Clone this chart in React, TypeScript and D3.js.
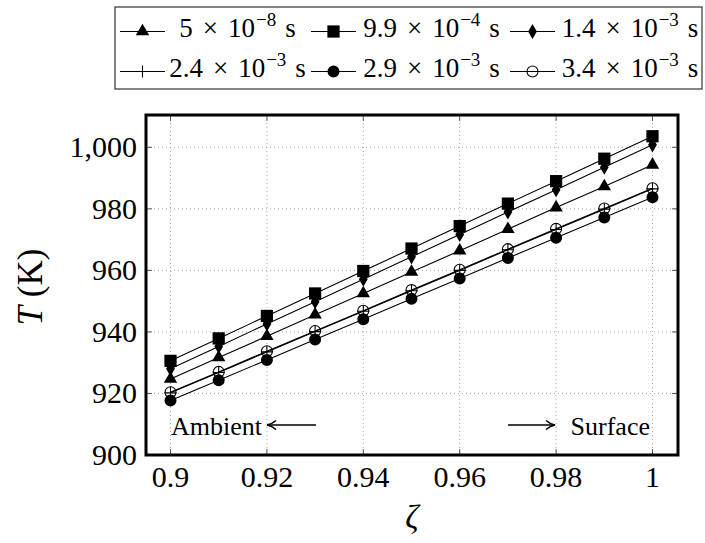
import React, { useEffect, useRef } from 'react';
import * as d3 from 'd3';

// valores
const zeta = [0.9, 0.91, 0.92, 0.93, 0.94, 0.95, 0.96, 0.97, 0.98, 0.99, 1.0];
const t5e8 = [924.7, 931.7, 938.6, 945.6, 952.5, 959.5, 966.4, 973.4, 980.4, 987.3, 994.3];
const t99e4 = [930.6, 937.9, 945.2, 952.5, 959.8, 967.1, 974.4, 981.7, 989.0, 996.3, 1003.6];
const t14e3 = [928.0, 935.3, 942.6, 949.8, 957.1, 964.4, 971.7, 979.0, 986.2, 993.5, 1000.8];
const t24e3 = [920.2, 926.8, 933.5, 940.1, 946.7, 953.4, 960.0, 966.7, 973.3, 979.9, 986.5];
const t29e3 = [917.7, 924.3, 930.9, 937.5, 944.1, 950.8, 957.4, 964.0, 970.6, 977.2, 983.8];
const t34e3 = [920.4, 927.0, 933.7, 940.3, 946.9, 953.6, 960.2, 966.9, 973.5, 980.1, 986.7];

const legendMantissa = ['5', '9.9', '1.4', '2.4', '2.9', '3.4'];
const legendExponent = ['−8', '−4', '−3', '−3', '−3', '−3'];
const markers = ['triangle', 'square', 'diamond', 'plus', 'circle', 'ocircle'];

const xTicks = [0.9, 0.92, 0.94, 0.96, 0.98, 1];
const yTicks = [900, 920, 940, 960, 980, 1000];

const FONT = "'Liberation Serif', 'Times New Roman', serif";

const drawMarker = (g: any, kind: string, x: number, y: number) => {
  if (kind === 'plus') {
    g.append('path')
      .attr('d', `M${x - 6},${y}H${x + 6}M${x},${y - 6}V${y + 6}`)
      .attr('stroke', 'black')
      .attr('stroke-width', 1.1)
      .attr('fill', 'none');
    return;
  }
  if (kind === 'ocircle') {
    g.append('circle')
      .attr('cx', x)
      .attr('cy', y)
      .attr('r', 5.5)
      .attr('fill', 'none')
      .attr('stroke', 'black')
      .attr('stroke-width', 1.1);
    return;
  }
  const type =
    kind === 'triangle' ? d3.symbolTriangle :
    kind === 'square' ? d3.symbolSquare :
    kind === 'diamond' ? d3.symbolDiamond : d3.symbolCircle;
  const size = kind === 'triangle' ? 78 : kind === 'square' ? 150 : kind === 'diamond' ? 66 : 113;
  g.append('path')
    .attr('d', d3.symbol().type(type).size(size)())
    .attr('transform', `translate(${x},${y})`)
    .attr('fill', 'black');
};

const App = () => {
  const chartRef = useRef<HTMLDivElement>(null);

  useEffect(() => {
    document.body.style.margin = '0';
    const series = [t5e8, t99e4, t14e3, t24e3, t29e3, t34e3];

    const width = 705;
    const height = 543;
    const left = 146, right = 678, top = 115, bottom = 455;

    const x = d3.scaleLinear().domain([0.894917, 1.00529]).range([left, right]);
    const y = d3.scaleLinear().domain([900, 1010.5]).range([bottom, top]);

    d3.select(chartRef.current).selectAll('*').remove();
    const svg = d3
      .select(chartRef.current)
      .append('svg')
      .attr('width', width)
      .attr('height', height)
      .attr('font-family', FONT)
      .style('display', 'block');

    // rejilla punteada
    const grid = svg.append('g');
    xTicks.forEach(t => {
      grid.append('line')
        .attr('x1', x(t)).attr('x2', x(t))
        .attr('y1', top).attr('y2', bottom)
        .attr('stroke', '#aaa')
        .attr('stroke-width', 1)
        .attr('stroke-dasharray', '1,3');
    });
    yTicks.forEach(t => {
      grid.append('line')
        .attr('x1', left).attr('x2', right)
        .attr('y1', y(t)).attr('y2', y(t))
        .attr('stroke', '#aaa')
        .attr('stroke-width', 1)
        .attr('stroke-dasharray', '1,3');
    });

    // marcas de los ejes (hacia dentro, ambos lados)
    const ticks = svg.append('g').attr('stroke', '#555').attr('stroke-width', 1);
    xTicks.forEach(t => {
      ticks.append('line').attr('x1', x(t)).attr('x2', x(t)).attr('y1', bottom).attr('y2', bottom - 6);
      ticks.append('line').attr('x1', x(t)).attr('x2', x(t)).attr('y1', top).attr('y2', top + 6);
    });
    yTicks.forEach(t => {
      ticks.append('line').attr('x1', left).attr('x2', left + 6).attr('y1', y(t)).attr('y2', y(t));
      ticks.append('line').attr('x1', right).attr('x2', right - 6).attr('y1', y(t)).attr('y2', y(t));
    });

    // etiquetas de los ticks
    svg.append('g')
      .selectAll('text')
      .data(xTicks)
      .enter()
      .append('text')
      .attr('x', d => x(d))
      .attr('y', 487)
      .attr('text-anchor', 'middle')
      .style('font-size', '30px')
      .text(d => String(d));

    svg.append('g')
      .selectAll('text')
      .data(yTicks)
      .enter()
      .append('text')
      .attr('x', 137)
      .attr('y', d => y(d) + 10)
      .attr('text-anchor', 'end')
      .style('font-size', '30px')
      .text(d => d3.format(',')(d));

    // series
    const line = d3.line<number>().x((d, i) => x(zeta[i])).y(d => y(d));
    const plot = svg.append('g');
    series.forEach((s, k) => {
      plot.append('path')
        .datum(s)
        .attr('d', line)
        .attr('fill', 'none')
        .attr('stroke', 'black')
        .attr('stroke-width', 1.1);
      s.forEach((v, i) => drawMarker(plot, markers[k], x(zeta[i]), y(v)));
    });

    // marco
    svg.append('rect')
      .attr('x', left).attr('y', top)
      .attr('width', right - left).attr('height', bottom - top)
      .attr('fill', 'none')
      .attr('stroke', 'black')
      .attr('stroke-width', 3);

    // anotaciones Ambient / Surface
    svg.append('defs').html(
      `<marker id="ah" viewBox="0 0 12 12" refX="11" refY="6" markerWidth="12" markerHeight="12" markerUnits="userSpaceOnUse" orient="auto-start-reverse">
        <path d="M2,1.5 Q6,5 11,6 Q6,7 2,10.5" fill="none" stroke="black" stroke-width="1.6"/></marker>`
    );
    svg.append('text')
      .attr('x', 171).attr('y', 435)
      .style('font-size', '26px')
      .text('Ambient');
    svg.append('line')
      .attr('x1', 267).attr('x2', 316).attr('y1', 425).attr('y2', 425)
      .attr('stroke', 'black').attr('stroke-width', 1.7)
      .attr('marker-start', 'url(#ah)');
    svg.append('line')
      .attr('x1', 508).attr('x2', 555).attr('y1', 425).attr('y2', 425)
      .attr('stroke', 'black').attr('stroke-width', 1.7)
      .attr('marker-end', 'url(#ah)');
    svg.append('text')
      .attr('x', 650).attr('y', 435)
      .attr('text-anchor', 'end')
      .style('font-size', '26px')
      .text('Surface');

    // títulos de ejes
    const yl = svg.append('text')
      .attr('transform', 'translate(42,287) rotate(-90)')
      .attr('text-anchor', 'middle')
      .style('font-size', '35px');
    yl.append('tspan').style('font-style', 'italic').text('T');
    yl.append('tspan').text(' (K)');

    svg.append('text')
      .attr('x', 412).attr('y', 528)
      .attr('text-anchor', 'middle')
      .style('font-size', '33px')
      .style('font-style', 'italic')
      .text('ζ');

    // leyenda
    const legend = svg.append('g');
    legend.append('rect')
      .attr('x', 115).attr('y', 7)
      .attr('width', 587).attr('height', 82)
      .attr('fill', 'white')
      .attr('stroke', '#333')
      .attr('stroke-width', 1.2);

    const imgLeft = [120, 311, 510];
    const textCenter = [237.5, 431.5, 630];
    const baselines = [37, 77];
    markers.forEach((m, k) => {
      const col = k % 3;
      const row = Math.floor(k / 3);
      const yb = baselines[row];
      const ym = yb - 5.5;
      legend.append('line')
        .attr('x1', imgLeft[col]).attr('x2', imgLeft[col] + 45)
        .attr('y1', ym).attr('y2', ym)
        .attr('stroke', 'black').attr('stroke-width', 1.1);
      drawMarker(legend, m, imgLeft[col] + 22.5, ym);

      const t = legend.append('text')
        .attr('x', textCenter[col]).attr('y', yb)
        .attr('text-anchor', 'middle')
        .style('font-size', '27px');
      t.append('tspan').text(legendMantissa[k]);
      t.append('tspan').attr('dx', 10).text('×');
      t.append('tspan').attr('dx', 10).text('10');
      t.append('tspan').attr('dx', 1).attr('dy', -11).style('font-size', '19px').text(legendExponent[k]);
      t.append('tspan').attr('dx', 9).attr('dy', 11).text('s');
    });
  }, []);

  return <div ref={chartRef} style={{ width: 705, height: 543 }}></div>;
};

export default App;
